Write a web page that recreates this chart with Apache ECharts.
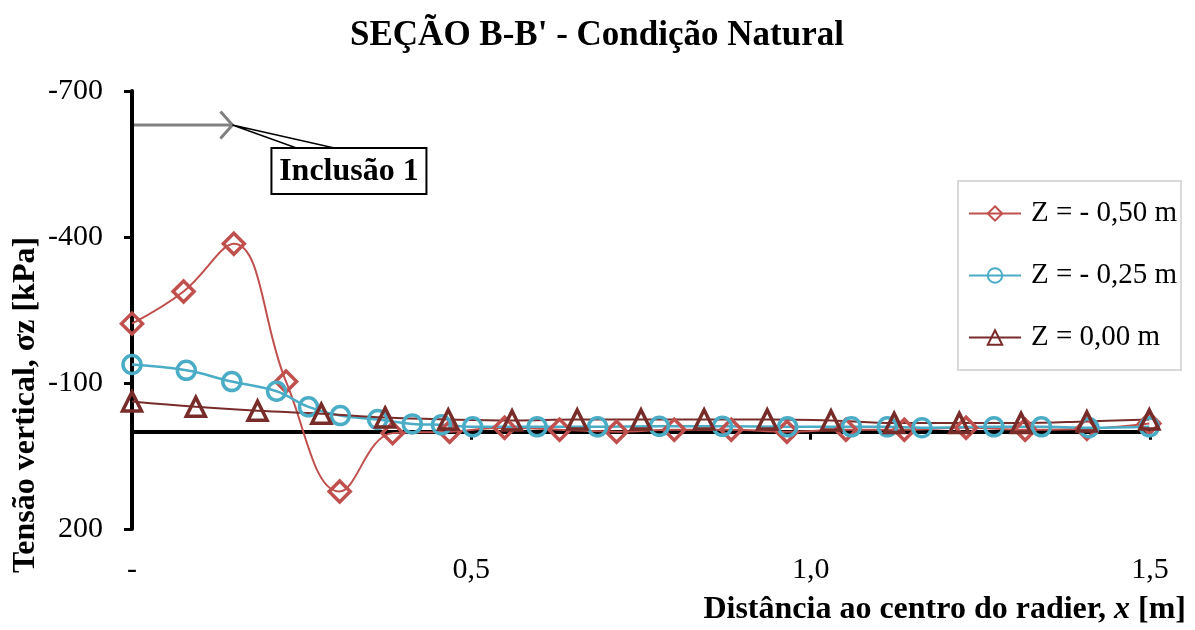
<!DOCTYPE html>
<html>
<head>
<meta charset="utf-8">
<script src="https://cdn.jsdelivr.net/npm/echarts@6/dist/echarts.min.js"></script>
<style>
html,body{margin:0;padding:0;background:#fff;}
#c{width:1195px;height:630px;}
</style>
</head>
<body>
<div id="c"></div>
<script>
// ---- data (x in m, sigma z in kPa) ----
const seriesNames = ['Z = - 0,50 m', 'Z = - 0,25 m', 'Z = 0,00 m'];

const xRed = [0, 0.076, 0.150, 0.227, 0.306, 0.384, 0.468, 0.549, 0.630, 0.714, 0.799, 0.883, 0.965, 1.052, 1.138, 1.229, 1.316, 1.407, 1.499];
const yRed = [-222, -288, -386, -103, 123, 3, 0, -8, -4, 0, -4, -4, 0, -4, -4, -8, -4, -6, -17];

const xBlue = [0, 0.080, 0.147, 0.213, 0.260, 0.307, 0.362, 0.413, 0.456, 0.502, 0.597, 0.686, 0.777, 0.870, 0.966, 1.060, 1.113, 1.164, 1.270, 1.340, 1.410, 1.499];
const yBlue = [-138, -126, -103, -83, -51, -33, -25, -16, -14, -10, -10, -10, -11, -11, -10, -10, -10, -8, -10, -10, -8, -10];

const xDark = [0, 0.094, 0.185, 0.279, 0.373, 0.466, 0.560, 0.656, 0.750, 0.843, 0.936, 1.030, 1.123, 1.219, 1.310, 1.407, 1.499];
const yDark = [-62, -51, -43, -37, -29, -25, -23, -25, -25, -25, -25, -23, -18, -18, -18, -21, -25];

const yTicks = [-700, -400, -100, 200];
const xTicks = [0, 0.5, 1.0, 1.5];

const annotX = [0, 0.148];
const annotY = -630;
const annotLabel = 'Inclusão 1';

const FONT = '"Liberation Serif", "Times New Roman", serif';
const zip = (a, b) => a.map((v, i) => [v, b[i]]);

const chart = echarts.init(document.getElementById('c'), null, {renderer: 'canvas'});

function xFmt(v) {
  if (Math.abs(v) < 1e-9) return '-';
  return v.toFixed(1).replace('.', ',');
}

const option = {
  backgroundColor: '#ffffff',
  animation: false,
  grid: {left: 132, right: 45, top: 91, bottom: 101, containLabel: false, outerBoundsMode: 'none'},
  xAxis: [
    {
      type: 'value', min: xTicks[0], max: xTicks[xTicks.length - 1], interval: 0.5,
      position: 'bottom',
      axisLine: {show: true, onZero: true, lineStyle: {color: '#000', width: 4}},
      axisTick: {show: true, length: 8, lineStyle: {color: '#000', width: 3}},
      axisLabel: {show: false},
      splitLine: {show: false}
    },
    {
      type: 'value', min: xTicks[0], max: xTicks[xTicks.length - 1], interval: 0.5,
      position: 'bottom',
      axisLine: {show: false, onZero: false},
      axisTick: {show: false},
      axisLabel: {show: true, margin: 26, color: '#000', fontFamily: FONT, fontSize: 30, formatter: xFmt},
      splitLine: {show: false}
    }
  ],
  yAxis: {
    type: 'value', min: yTicks[0], max: yTicks[yTicks.length - 1], interval: 300, inverse: true,
    axisLine: {show: true, onZero: false, lineStyle: {color: '#000', width: 4}},
    axisTick: {show: true, length: 8, lineStyle: {color: '#000', width: 3}},
    axisLabel: {show: true, margin: 29, color: '#000', fontFamily: FONT, fontSize: 30},
    splitLine: {show: false}
  },
  legend: {
    orient: 'vertical',
    left: 958, top: 181,
    padding: [18, 4, 18, 10],
    itemGap: 33,
    itemWidth: 52, itemHeight: 18,
    backgroundColor: '#fff',
    borderColor: '#d9d9d9', borderWidth: 2, borderRadius: 0,
    textStyle: {fontFamily: FONT, fontSize: 29, color: '#000', padding: [0, 0, 0, 5]},
    data: seriesNames
  },
  series: [
    {
      name: seriesNames[0], type: 'line', xAxisIndex: 0, data: zip(xRed, yRed),
      smooth: 0.4, symbol: 'diamond', symbolSize: 21,
      color: '#C0504D',
      lineStyle: {color: '#C0504D', width: 2},
      itemStyle: {color: 'rgba(255,255,255,0)', borderColor: '#C0504D', borderWidth: 3.5}
    },
    {
      name: seriesNames[1], type: 'line', xAxisIndex: 0, data: zip(xBlue, yBlue),
      smooth: 0.4, symbol: 'circle', symbolSize: 18,
      color: '#4BACC6',
      lineStyle: {color: '#4BACC6', width: 2.5},
      itemStyle: {color: 'rgba(255,255,255,0)', borderColor: '#4BACC6', borderWidth: 3.5}
    },
    {
      name: seriesNames[2], type: 'line', xAxisIndex: 0, data: zip(xDark, yDark),
      smooth: 0.4, symbol: 'triangle', symbolSize: 19,
      color: '#772C2A',
      lineStyle: {color: '#772C2A', width: 2},
      itemStyle: {color: 'rgba(255,255,255,0)', borderColor: '#772C2A', borderWidth: 3.5}
    }
  ]
};
chart.setOption(option);

// annotation & texts (positions from axis scales)
const p0 = chart.convertToPixel({xAxisIndex: 0, yAxisIndex: 0}, [annotX[0], annotY]);
const p1 = chart.convertToPixel({xAxisIndex: 0, yAxisIndex: 0}, [annotX[1], annotY]);
const tx = p1[0], ty = p1[1];
const bx = tx + 39, by = ty + 23, bw = 155, bh = 46;

chart.setOption({
  graphic: [
    {type: 'text', x: 597, y: 36, z: 10,
      style: {text: "SEÇÃO B-B' - Condição Natural", font: 'bold 35px ' + FONT, fill: '#000', align: 'center', verticalAlign: 'middle'}},
    {type: 'text', x: 26, y: 405, rotation: Math.PI / 2, z: 10,
      style: {text: 'Tensão vertical, σz [kPa]', font: 'bold 32px ' + FONT, fill: '#000', align: 'center', verticalAlign: 'middle'}},
    {type: 'text', x: 1186, y: 610, z: 10,
      style: {
        text: '{b|Distância ao centro do radier, }{i|x}{b| [m]}',
        align: 'right', verticalAlign: 'middle',
        rich: {
          b: {font: 'bold 32px ' + FONT, fill: '#000'},
          i: {font: 'italic bold 32px ' + FONT, fill: '#000'}
        }
      }},
    // arrow
    {type: 'line', z: 20, shape: {x1: p0[0] + 2, y1: p0[1], x2: tx, y2: ty},
      style: {stroke: '#808080', lineWidth: 3}},
    {type: 'polyline', z: 20, shape: {points: [[tx - 12, ty - 13.5], [tx, ty], [tx - 12, ty + 13.5]]},
      style: {stroke: '#808080', lineWidth: 3, fill: null}},
    // callout
    {type: 'polygon', z: 21, shape: {points: [[tx, ty], [bx + 25, by], [bx + 63, by]]},
      style: {stroke: '#000', lineWidth: 1.5, fill: '#fff'}},
    {type: 'rect', z: 22, shape: {x: bx, y: by, width: bw, height: bh},
      style: {stroke: '#000', lineWidth: 2, fill: '#fff'}},
    {type: 'text', z: 23, x: bx + bw / 2, y: by + bh / 2 + 1,
      style: {text: annotLabel, font: 'bold 32px ' + FONT, fill: '#000', align: 'center', verticalAlign: 'middle'}}
  ]
});
</script>
</body>
</html>
